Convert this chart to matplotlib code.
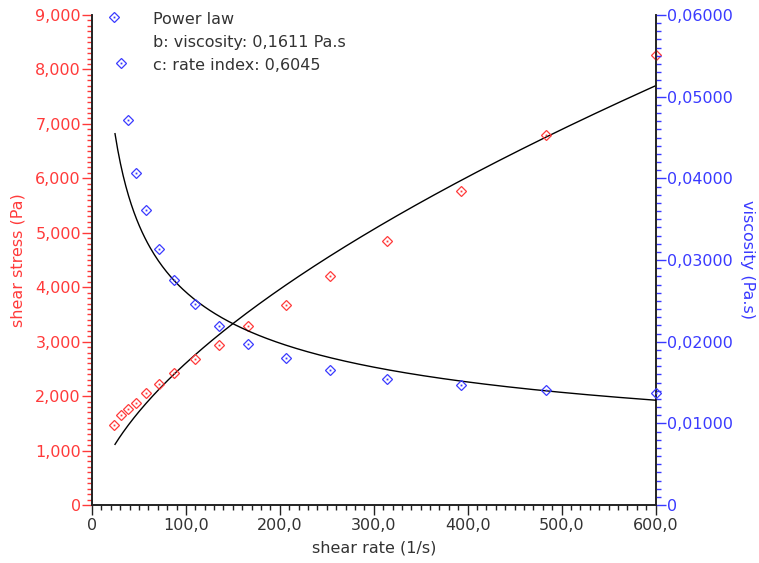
import numpy as np
import matplotlib
matplotlib.use("Agg")
import matplotlib.pyplot as plt
from matplotlib.ticker import MultipleLocator, FuncFormatter

plt.rcParams['font.family'] = ['DejaVu Sans']

# Measured flow curve
shear_rate = [23.7, 30.6, 38.0, 46.9, 57.5, 71.3, 87.3, 109.7, 135.2, 166.1,
              206.6, 253.4, 314.1, 392.9, 483.4, 600.0]
shear_stress = [1469, 1653, 1763, 1873, 2057, 2222, 2424, 2682, 2939, 3288,
                3673, 4206, 4849, 5767, 6796, 8265]
viscosity = [0.0598, 0.0541, 0.0471, 0.0407, 0.0361, 0.0314, 0.0276, 0.0246,
             0.0219, 0.0197, 0.0180, 0.0165, 0.0154, 0.0147, 0.0141, 0.0137]

# Power-law fit parameters
fit_b = 0.1611
fit_c = 0.6045
stress_scale = 1000.0
fit_rate_range = (24.5, 600.0)

RED = '#ff3a3a'
BLUE = '#3a3aff'
DARK = '#333333'
FS = 11.5

fig = plt.figure(figsize=(7.59, 5.63), dpi=100)
W, H = 759, 563
ax = fig.add_axes([92 / W, (H - 505) / H, (655.5 - 92) / W, (505 - 15) / H])
ax2 = ax.twinx()

# fit curves
xr = np.linspace(fit_rate_range[0], fit_rate_range[1], 400)
ax.plot(xr, stress_scale * fit_b * xr ** fit_c, color='black', lw=1.0, zorder=3)
ax2.plot(xr, fit_b * xr ** (fit_c - 1.0), color='black', lw=1.0, zorder=3)

# measured points: open diamonds with a centre dot
ax.plot(shear_rate, shear_stress, linestyle='none', marker='D', ms=4.6,
        mfc='none', mec=RED, mew=0.9, clip_on=False, zorder=4)
ax.plot(shear_rate, shear_stress, linestyle='none', marker='s', ms=1.3,
        mfc=RED, mec=RED, mew=0, clip_on=False, zorder=4)
ax2.plot(shear_rate, viscosity, linestyle='none', marker='D', ms=4.6,
         mfc='none', mec=BLUE, mew=0.9, clip_on=False, zorder=4)
ax2.plot(shear_rate, viscosity, linestyle='none', marker='s', ms=1.3,
         mfc=BLUE, mec=BLUE, mew=0, clip_on=False, zorder=4)

ax.set_xlim(0, 600)
ax.set_ylim(0, 9000)
ax2.set_ylim(0, 0.06)

for a in (ax, ax2):
    a.spines['top'].set_visible(False)
    for s in ('left', 'right', 'bottom'):
        a.spines[s].set_color('#222222')
        a.spines[s].set_linewidth(1.2)

# x axis
ax.xaxis.set_major_locator(MultipleLocator(100))
ax.xaxis.set_minor_locator(MultipleLocator(10))
ax.xaxis.set_major_formatter(FuncFormatter(
    lambda v, p: '0' if v == 0 else f'{v:.1f}'.replace('.', ',')))
ax.tick_params(axis='x', which='major', direction='out', length=7, width=1,
               color='#222222', labelcolor=DARK, labelsize=FS, pad=2)
ax.tick_params(axis='x', which='minor', direction='out', length=3.5, width=1,
               color='#222222')

# left axis: shear stress
ax.yaxis.set_major_locator(MultipleLocator(1000))
ax.yaxis.set_minor_locator(MultipleLocator(100))
ax.yaxis.set_major_formatter(FuncFormatter(
    lambda v, p: '0' if v == 0 else f'{v:,.0f}'))
ax.tick_params(axis='y', which='major', direction='out', length=7, width=1,
               color=RED, labelcolor=RED, labelsize=FS, pad=1)
ax.tick_params(axis='y', which='minor', direction='out', length=3.5, width=1,
               color=RED)

# right axis: viscosity
ax2.yaxis.set_major_locator(MultipleLocator(0.01))
ax2.yaxis.set_minor_locator(MultipleLocator(0.001))
ax2.yaxis.set_major_formatter(FuncFormatter(
    lambda v, p: '0' if abs(v) < 1e-12 else f'{v:.5f}'.replace('.', ',')))
ax2.tick_params(axis='y', which='major', direction='out', length=7, width=1,
                color=BLUE, labelcolor=BLUE, labelsize=FS, pad=1)
ax2.tick_params(axis='y', which='minor', direction='out', length=3.5, width=1,
                color=BLUE)

ax.set_xlabel('shear rate (1/s)', color=DARK, fontsize=FS, labelpad=6)
ax.set_ylabel('shear stress (Pa)', color=RED, fontsize=FS, labelpad=7)
ax2.set_ylabel('viscosity (Pa.s)', color=BLUE, fontsize=FS, rotation=270,
               labelpad=16)

# fit summary
summary = ['Power law',
           f'b: viscosity: {fit_b:.4f} Pa.s'.replace('.', ',', 1),
           f'c: rate index: {fit_c:.4f}'.replace('.', ',')]
for i, line in enumerate(summary):
    fig.text(153 / W, 1 - (20 + 23 * i) / H, line, color=DARK, fontsize=FS,
             va='center', ha='left')

fig.savefig('out.png', dpi=100)
